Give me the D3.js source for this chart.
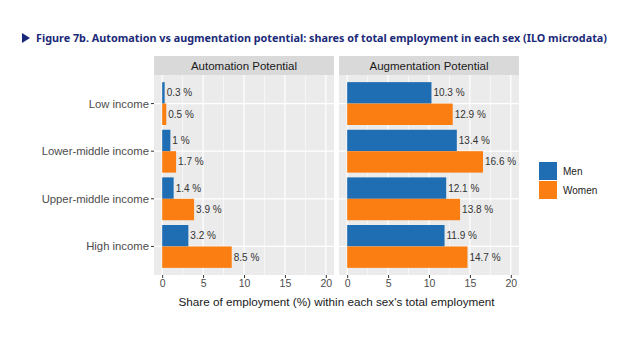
<!DOCTYPE html>
<html>
<head>
<meta charset="utf-8" />
<title>Figure 7b</title>
<script src="https://d3js.org/d3.v7.min.js"></script>
<style>
  body { margin: 0; background: #fff; }
  text { font-family: "Liberation Sans", Arial, sans-serif; }
</style>
</head>
<body>
<svg id="viz"></svg>
<script>
var width = 640, height = 351;

var incomeGroups = ["Low income", "Lower-middle income", "Upper-middle income", "High income"];
var sexes = ["Men", "Women"];
var panels = ["Automation Potential", "Augmentation Potential"];
var automationMen = [0.3, 1, 1.4, 3.2];
var automationWomen = [0.5, 1.7, 3.9, 8.5];
var augmentationMen = [10.3, 13.4, 12.1, 11.9];
var augmentationWomen = [12.9, 16.6, 13.8, 14.7];
var xTicks = [0, 5, 10, 15, 20];

var seriesByPanel = [
  [automationMen, automationWomen],
  [augmentationMen, augmentationWomen]
];
var colors = {Men: "#1f6db3", Women: "#fb7e12"};

var svg = d3.select("#viz").attr("width", width).attr("height", height);

// title
var title = svg.append("g");
title.append("path")
  .attr("d", "M22,33 L30,38 L22,43 Z")
  .attr("fill", "#1b2a78");
title.append("text")
  .attr("x", 36).attr("y", 42)
  .attr("textLength", 571)
  .attr("lengthAdjust", "spacingAndGlyphs")
  .style("font-family", "'Noto Sans', sans-serif")
  .style("font-weight", "bold")
  .style("font-size", "11px")
  .attr("fill", "#1b2a78")
  .text("Figure 7b. Automation vs augmentation potential: shares of total employment in each sex (ILO microdata)");

var panelLeft = [154, 339];
var panelW = 180;
var stripTop = 56, stripH = 19;
var plotTop = 75, plotBottom = 275;

// ggplot discrete expand: 0.6 units on each side, bar width 0.9
var step = (plotBottom - plotTop) / (incomeGroups.length - 1 + 1.2);
function yCenter(i) { return plotTop + (0.6 + i) * step; }
var barH = step * 0.9 / 2;

panels.forEach(function(name, p) {
  var x = d3.scaleLinear().domain([-1, 21]).range([panelLeft[p], panelLeft[p] + panelW]);
  var g = svg.append("g");

  g.append("rect")
    .attr("x", panelLeft[p]).attr("y", plotTop)
    .attr("width", panelW).attr("height", plotBottom - plotTop)
    .attr("fill", "#ebebeb");

  // minor grid
  [2.5, 7.5, 12.5, 17.5].forEach(function(v) {
    g.append("line")
      .attr("x1", x(v)).attr("x2", x(v))
      .attr("y1", plotTop).attr("y2", plotBottom)
      .attr("stroke", "#fff").attr("stroke-width", 0.6);
  });
  xTicks.forEach(function(v) {
    g.append("line")
      .attr("x1", x(v)).attr("x2", x(v))
      .attr("y1", plotTop).attr("y2", plotBottom)
      .attr("stroke", "#fff").attr("stroke-width", 1.2);
  });
  incomeGroups.forEach(function(c, i) {
    g.append("line")
      .attr("x1", panelLeft[p]).attr("x2", panelLeft[p] + panelW)
      .attr("y1", yCenter(i)).attr("y2", yCenter(i))
      .attr("stroke", "#fff").attr("stroke-width", 1.2);
  });

  // strip
  g.append("rect")
    .attr("x", panelLeft[p]).attr("y", stripTop)
    .attr("width", panelW).attr("height", stripH)
    .attr("fill", "#d9d9d9");
  g.append("text")
    .attr("x", panelLeft[p] + panelW / 2).attr("y", stripTop + stripH / 2 + 4)
    .attr("text-anchor", "middle")
    .style("font-size", "11.5px")
    .attr("fill", "#1a1a1a")
    .text(name);

  // bars
  sexes.forEach(function(s, k) {
    var vals = seriesByPanel[p][k];
    g.selectAll("rect.bar-" + k)
      .data(vals)
      .enter().append("rect")
      .attr("class", "bar-" + k)
      .attr("x", x(0))
      .attr("y", function(d, i) { return yCenter(i) - barH + k * barH; })
      .attr("width", function(d) { return x(d) - x(0); })
      .attr("height", barH)
      .attr("fill", colors[s]);
    g.selectAll("text.lab-" + k)
      .data(vals)
      .enter().append("text")
      .attr("class", "lab-" + k)
      .attr("x", function(d) { return x(d) + 2; })
      .attr("y", function(d, i) { return yCenter(i) - barH / 2 + k * barH + 3.5; })
      .style("font-size", "10px")
      .attr("fill", "#333")
      .text(function(d) { return d + " %"; });
  });

  // x axis
  var ax = g.append("g")
    .attr("transform", "translate(0," + plotBottom + ")")
    .call(d3.axisBottom(x).tickValues(xTicks).tickSize(3).tickPadding(2));
  ax.select(".domain").remove();
  ax.selectAll("line").attr("stroke", "#333");
  ax.selectAll("text")
    .style("font-family", "'Liberation Sans', Arial, sans-serif")
    .style("font-size", "10.5px").attr("fill", "#4d4d4d");
});

// y axis labels
incomeGroups.forEach(function(c, i) {
  svg.append("line")
    .attr("x1", panelLeft[0] - 3).attr("x2", panelLeft[0])
    .attr("y1", yCenter(i)).attr("y2", yCenter(i))
    .attr("stroke", "#333");
  svg.append("text")
    .attr("x", panelLeft[0] - 5).attr("y", yCenter(i) + 4)
    .attr("text-anchor", "end")
    .style("font-size", "11.3px")
    .attr("fill", "#4d4d4d")
    .text(c);
});

// x axis title
svg.append("text")
  .attr("x", (panelLeft[0] + panelLeft[1] + panelW) / 2).attr("y", 306)
  .attr("text-anchor", "middle")
  .style("font-size", "11.7px")
  .attr("fill", "#1a1a1a")
  .text("Share of employment (%) within each sex's total employment");

// legend
var legend = svg.append("g").attr("transform", "translate(539,162)");
sexes.forEach(function(s, k) {
  legend.append("rect")
    .attr("x", 0).attr("y", k * 19)
    .attr("width", 18).attr("height", 18)
    .attr("fill", colors[s]);
  legend.append("text")
    .attr("x", 24).attr("y", k * 19 + 13)
    .style("font-size", "10px")
    .attr("fill", "#1a1a1a")
    .text(s);
});
</script>
</body>
</html>
